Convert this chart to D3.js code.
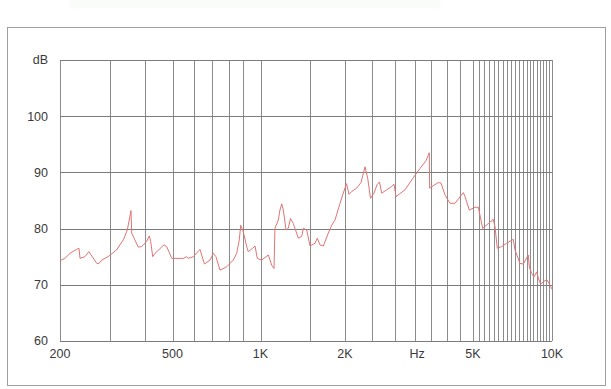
<!DOCTYPE html>
<html>
<head>
<meta charset="utf-8">
<script src="https://cdn.jsdelivr.net/npm/d3@7"></script>
<style>
  body { margin: 0; background: #fff; }
  .chart text { font-family: "Liberation Sans", Arial, sans-serif; font-size: 12.5px; fill: #3a3a3a; }
</style>
</head>
<body>
<div class="chart"></div>
<script>
// frequency response
var freqs = [200, 208, 217, 229, 233.5, 235.4, 245, 253, 270, 275, 281, 296, 317, 335, 346, 356.6, 358.6, 368, 378.5, 389,
  405, 414, 418.7, 425.6, 433.6, 466.5, 477, 497, 544, 559, 566, 589, 621, 629, 643, 672, 689.5, 704, 727, 766,
  807, 829, 846, 856, 873, 897, 908, 940, 958, 975, 1010, 1066, 1096, 1117, 1126, 1157, 1173, 1190, 1206, 1233,
  1256, 1279, 1309, 1364, 1402, 1421, 1461, 1501, 1564, 1594, 1629, 1674, 1744, 1793, 1842, 1920, 1972, 2022, 2058, 2098,
  2175, 2243, 2308, 2353, 2400, 2461, 2515, 2560, 2601, 2696, 2794, 2840, 2881, 3073, 3224, 3421, 3572, 3657, 3665, 3900,
  3976, 4092, 4241, 4396, 4665, 4722, 4870, 5088, 5238, 5444, 5718, 5975, 6065, 6188, 6431, 6720, 7121, 7228, 7552, 7774,
  8122, 8194, 8368, 8539, 8743, 8867, 9056, 9266, 9546, 9826, 10000];
var levels = [74.3, 74.7, 75.6, 76.3, 76.5, 74.7, 75.0, 75.9, 73.8, 73.8, 74.4, 75.0, 76.2, 78.0, 79.75, 83.2, 79.2, 78.0, 76.7, 76.8,
  77.7, 78.7, 77.7, 75.0, 75.6, 77.1, 76.8, 74.7, 74.7, 75.0, 74.7, 75.0, 76.3, 75.3, 73.7, 74.4, 75.6, 75.0, 72.6, 73.2,
  74.4, 75.6, 78.0, 80.6, 79.45, 76.8, 75.9, 76.5, 76.9, 74.7, 74.4, 75.3, 73.5, 72.9, 80.05, 81.5, 83.3, 84.4, 83.3, 79.75,
  80.05, 81.8, 80.9, 78.3, 78.6, 80.05, 79.75, 76.9, 77.4, 78.3, 77.1, 76.9, 79.2, 80.6, 81.5, 84.5, 86.3, 88.0, 86.1, 86.6,
  87.2, 88.2, 91.0, 88.95, 85.4, 86.3, 87.8, 88.3, 86.3, 86.9, 87.5, 87.9, 85.7, 86.9, 88.65, 90.7, 92.1, 93.5, 87.2, 88.2,
  88.1, 86.0, 84.5, 84.5, 86.4, 85.7, 83.3, 83.8, 83.8, 80.05, 80.9, 81.65, 80.3, 76.5, 76.8, 77.4, 78.1, 76.2, 73.8, 73.7,
  75.3, 73.2, 72.0, 71.4, 72.3, 71.2, 70.1, 70.55, 70.9, 70.0, 69.2];

// vertical rules as printed on the chart paper
var gridFreqs = [200, 300, 400, 500, 590, 680, 780, 870, 1000, 1500, 2000, 2430, 2860, 3290, 3710, 4140, 4570, 5000,
  5250, 5500, 5750, 6000, 6250, 6500, 6750, 7000, 7250, 7500, 7750, 8000, 8250, 8500, 8750, 9000, 9250, 9500, 9750, 10000];
var dbGrid = [60, 70, 80, 90, 100, 110];
var dbLabels = ["60", "70", "80", "90", "100", "dB"];
var axisFreqs = [200, 500, 1000, 2000, 3350, 5000, 10000];
var axisLabels = ["200", "500", "1K", "2K", "Hz", "5K", "10K"];

var svgWidth = 611;
var svgHeight = 389;
var margin = { top: 60, left: 60 };
var width = 492;
var height = 281;

var svg = d3.select(".chart")
  .append("svg")
  .attr("width", svgWidth)
  .attr("height", svgHeight);

// light outer frame
svg.append("rect")
  .attr("x", 70).attr("y", 0).attr("width", 370).attr("height", 8)
  .attr("fill", "#fafcfa");
svg.append("rect")
  .attr("x", 7.5).attr("y", 27.5)
  .attr("width", 598).attr("height", 358)
  .attr("fill", "none")
  .attr("stroke", "#a0a0a0");

var chartGroup = svg.append("g")
  .attr("transform", `translate(${margin.left}, ${margin.top})`);

// the printed scale is not a clean log: piecewise log between the labelled decades
var xScale = d3.scaleLinear()
  .domain([200, 500, 1000, 2000, 5000, 10000].map(Math.log10))
  .range([0, 112.5, 200.5, 285, 413, 492]);
var x = f => xScale(Math.log10(f));

var yScale = d3.scaleLinear()
  .domain([60, 110])
  .range([height, 0]);

var snap = v => Math.round(v) + 0.5;

chartGroup.selectAll(".vgrid")
  .data(gridFreqs)
  .enter()
  .append("line")
  .attr("x1", d => snap(x(d)))
  .attr("x2", d => snap(x(d)))
  .attr("y1", 0)
  .attr("y2", height)
  .attr("stroke", "#8c8c8c")
  .attr("stroke-width", 1);

chartGroup.selectAll(".hgrid")
  .data(dbGrid)
  .enter()
  .append("line")
  .attr("x1", 0)
  .attr("x2", width)
  .attr("y1", d => snap(yScale(d)))
  .attr("y2", d => snap(yScale(d)))
  .attr("stroke", "#7c7c7c")
  .attr("stroke-width", 1);

chartGroup.selectAll(".ylab")
  .data(dbGrid)
  .enter()
  .append("text")
  .attr("x", -12)
  .attr("y", d => yScale(d))
  .attr("dy", "0.35em")
  .attr("text-anchor", "end")
  .text((d, i) => dbLabels[i]);

chartGroup.selectAll(".xlab")
  .data(axisFreqs)
  .enter()
  .append("text")
  .attr("x", d => x(d))
  .attr("y", height + 17)
  .attr("text-anchor", "middle")
  .text((d, i) => axisLabels[i]);

var line = d3.line()
  .x(d => x(d[0]))
  .y(d => yScale(d[1]));

chartGroup.append("path")
  .datum(d3.zip(freqs, levels))
  .attr("d", line)
  .attr("fill", "none")
  .attr("stroke", "#e27474")
  .attr("stroke-width", 1);
</script>
</body>
</html>
